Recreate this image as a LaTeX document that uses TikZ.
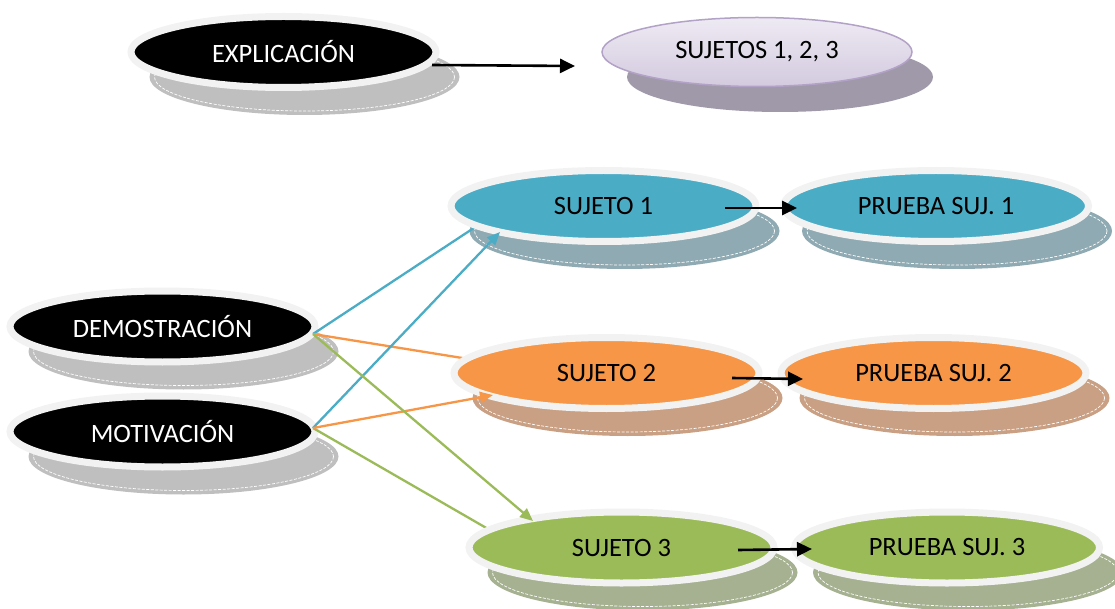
\documentclass[tikz,border=0pt]{standalone}
\usepackage{fontspec}
\setmainfont{Carlito}
\usetikzlibrary{shapes.geometric,arrows.meta,calc}
\definecolor{ringc}{HTML}{F2F2F2}
\definecolor{bluef}{HTML}{4BACC6}
\definecolor{orangef}{HTML}{F79646}
\definecolor{greenf}{HTML}{9BBB59}
\definecolor{blues}{HTML}{8FAAB2}
\definecolor{oranges}{HTML}{C9A083}
\definecolor{greens}{HTML}{A5B190}
\definecolor{grays}{HTML}{BFBFBF}
\definecolor{purples}{HTML}{A099AA}
\definecolor{purpled}{HTML}{B3A2C7}
\definecolor{purplet}{HTML}{EEEAF3}
\definecolor{purpleb}{HTML}{D3CADF}
\newcommand\shadowell[2]{%
  \fill[#2] ($(#1)+(21,25)$) ellipse [x radius=155, y radius=38];
  \draw[white, line width=0.7pt, dash pattern=on 3pt off 1.5pt] ($(#1)+(21,25)$) ellipse [x radius=150, y radius=34];}
\begin{document}
\begin{tikzpicture}[x=1pt,y=-1pt,
  ell/.style={ellipse, inner sep=0pt, minimum width=305pt, minimum height=71pt,
    draw=ringc, line width=7pt, font=\fontsize{26.5}{30}\selectfont},
  blk/.style={ell, fill=black, text=white},
  bnode/.style={ell, fill=bluef, text=black},
  onode/.style={ell, fill=orangef, text=black},
  gnode/.style={ell, fill=greenf, text=black},
  pnode/.style={ellipse, inner sep=0pt, minimum width=310pt, minimum height=69pt,
    draw=purpled, line width=1.5pt, top color=purplet, bottom color=purpleb,
    text=black, font=\fontsize{26.5}{30}\selectfont},
  blkarrow/.style={line width=2.6pt, -{Triangle[length=15pt,width=14pt]}},
  barrow/.style={line width=2.3pt, draw=bluef, -{Triangle[length=13pt,width=11pt]}, fill=bluef},
  oarrow/.style={line width=2.3pt, draw=orangef, -{Triangle[length=13pt,width=11pt]}, fill=orangef},
  garrow/.style={line width=2.3pt, draw=greenf, -{Triangle[length=13pt,width=11pt]}, fill=greenf}
]
\useasboundingbox (0,0) rectangle (1115,609);
% centres
\coordinate (cexpl) at (283.5,52);
\coordinate (csujs) at (757,52);
\coordinate (cdemo) at (162.5,326.5);
\coordinate (cmoti) at (162.5,431.5);
\coordinate (cs1) at (603.5,206);
\coordinate (cp1) at (936,206);
\coordinate (cs2) at (606.5,373);
\coordinate (cp2) at (933.5,373);
\coordinate (cs3) at (621.5,547.5);
\coordinate (cp3) at (947,547.5);
% shadows
\shadowell{cexpl}{grays}
\fill[purples] ($(csujs)+(23,25)$) ellipse [x radius=153, y radius=35];
\shadowell{cdemo}{grays}
\shadowell{cmoti}{grays}
\shadowell{cs1}{blues}
\shadowell{cp1}{blues}
\shadowell{cs2}{oranges}
\shadowell{cp2}{oranges}
\shadowell{cs3}{greens}
\shadowell{cp3}{greens}
% left and top nodes
\node[blk] (expl) at (cexpl) {EXPLICACIÓN};
\node[pnode] (sujs) at (csujs) {SUJETOS 1, 2, 3};
\node[blk] (demo) at (cdemo) {DEMOSTRACIÓN};
\node[blk] (moti) at (cmoti) {MOTIVACIÓN};
% connectors whose heads are hidden behind the targets
\draw[barrow] ($(demo.center)+(150.5,7.5)$) -- ($(cs1)+(-110,9)$);
\draw[oarrow] ($(demo.center)+(150.5,7.5)$) -- ($(cs2)+(-113,-10)$);
\draw[garrow] ($(moti.center)+(150.5,-3.5)$) -- ($(cs3)+(-110,-5)$);
% right nodes
\node[bnode] (s1) at (cs1) {SUJETO 1};
\node[bnode] (p1) at (cp1) {PRUEBA SUJ. 1};
\node[onode] (s2) at (cs2) {SUJETO 2};
\node[onode] (p2) at (cp2) {PRUEBA SUJ. 2};
\node[gnode] (s3) at (cs3) {SUJETO 3};
\node[gnode] (p3) at (cp3) {PRUEBA SUJ. 3};
% visible connectors
\draw[barrow] ($(moti.center)+(150.5,-3.5)$) -- ($(s1.center)+(-103.5,26)$);
\draw[oarrow] ($(moti.center)+(150.5,-3.5)$) -- ($(s2.center)+(-113.5,22)$);
\draw[garrow] ($(demo.center)+(150.5,7.5)$) -- ($(s3.center)+(-88.5,-26.5)$);
% black arrows
\coordinate (etip) at ($(sujs.center)+(-182,14)$);
\draw[blkarrow] ($(expl.center)+(148.5,13)$) -- (etip);
\draw[blkarrow] ($(s1.center)+(121.5,2)$) -- ($(p1.center)+(-139,2)$);
\draw[blkarrow] ($(s2.center)+(125.5,5)$) -- ($(p2.center)+(-130.5,6)$);
\draw[blkarrow] ($(s3.center)+(116.5,2.5)$) -- ($(p3.center)+(-135,1.5)$);
\end{tikzpicture}
\end{document}
